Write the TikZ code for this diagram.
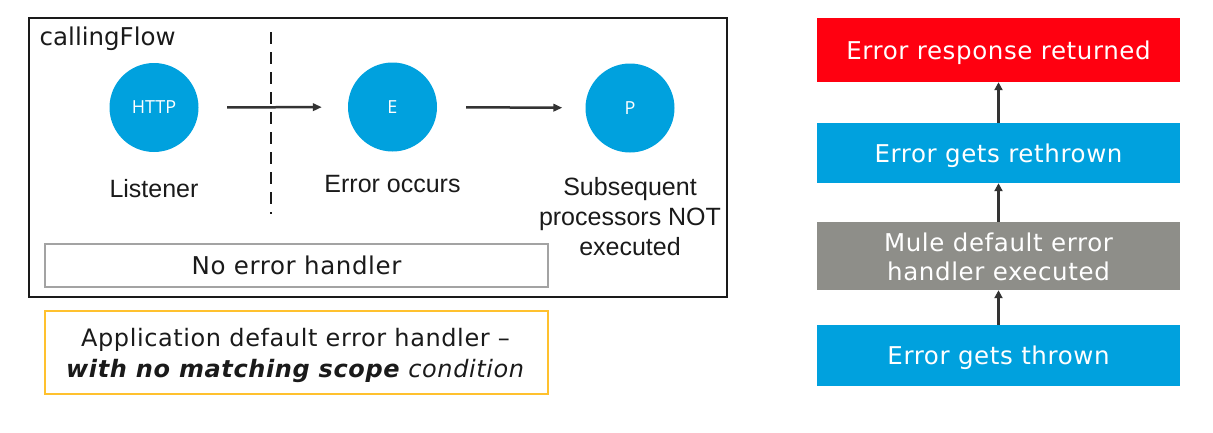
\documentclass[tikz,border=0pt]{standalone}
\usepackage{fontspec}
\setmainfont{DejaVu Sans}[LetterSpace=2.5]
\newfontfamily\verdf{DejaVu Sans}
\newfontfamily\arialf{Liberation Sans}
\newfontfamily\segoef{Open Sans}
\usetikzlibrary{arrows.meta}
\definecolor{muleblue}{HTML}{00A1DE}
\definecolor{mulered}{HTML}{FF0010}
\definecolor{mulegrey}{HTML}{8E8E89}
\definecolor{hgrey}{HTML}{A3A3A3}
\definecolor{myellow}{HTML}{FFC12E}
\definecolor{dark}{HTML}{333333}
\definecolor{txt}{HTML}{1A1A1A}
\tikzset{
  proc/.style={circle, fill=muleblue, draw=none, minimum size=89pt, inner sep=0pt, text=white, font=\segoef\fontsize{18}{20}\selectfont},
  lbl/.style={inner sep=0pt, align=center, text=txt, font=\arialf\fontsize{25}{30}\selectfont},
  flowarrow/.style={draw=dark, line width=2.5pt, -{Triangle[length=9pt,width=7.5pt]}},
  uparrow/.style={draw=dark, line width=2.6pt, -{Triangle[length=8pt,width=8pt]}},
  stepbox/.style={minimum width=363pt, inner sep=0pt, text=white, align=center, text height=18pt, text depth=0pt, font=\fontsize{24.5}{29}\selectfont},
  steptext/.style={inner sep=0pt, text=white, align=center, font=\fontsize{24.5}{29}\selectfont},
}
\begin{document}
\begin{tikzpicture}[x=1pt, y=-1pt]
\useasboundingbox (0,0) rectangle (1213,432);
% outer frame
\node[draw=txt, line width=2pt, minimum width=698pt, minimum height=279pt, inner sep=0pt, anchor=north west] (frame) at (28,17) {};
\node[anchor=base west, inner sep=0pt, text=txt, font=\verdf\fontsize{24.5}{29}\selectfont] (title) at (39.5,45) {callingFlow};
% dashed separator
\coordinate (dtop) at (271,32);
\coordinate (dbot) at (271,214);
\draw[draw=txt, line width=2.6pt, dash pattern=on 12pt off 8pt] (dtop) -- (dbot);
% processors
\node[proc] (http) at (154,107.5) {HTTP};
\node[proc] (err) at (392.5,107) {E};
\node[proc] (p) at (630,108) {P};
\draw[flowarrow, shorten <=28.5pt, shorten >=26pt] (http) -- (err);
\draw[flowarrow, shorten <=29pt, shorten >=23pt] (err) -- (p);
% labels
\node[lbl, anchor=base] (l1) at (154,197) {Listener};
\node[lbl, anchor=base] (l2) at (392.5,192) {Error occurs};
\node[lbl, anchor=north] (l3) at (630,177) {Subsequent\\processors NOT\\executed};
% no error handler
\node[draw=hgrey, line width=2pt, minimum width=503pt, minimum height=43pt, inner sep=0pt, anchor=north west, text=txt, font=\fontsize{24.5}{29}\selectfont] (noeh) at (44,243) {No error handler};
% application default box
\node[draw=myellow, line width=2pt, minimum width=503pt, minimum height=83pt, inner sep=0pt, anchor=north west] (appbox) at (44,310) {};
\node[anchor=north, inner sep=0pt, align=center, text=txt, font=\fontsize{24}{31}\selectfont] (apptext) at (295.5,328) {Application default error handler --\\\textbf{\textit{with no matching scope}} \textit{condition}};
% right column
\node[stepbox, fill=mulered, minimum height=64pt] (resp) at (998.5,50) {Error response returned};
\node[stepbox, fill=muleblue, minimum height=60pt] (rethrow) at (998.5,153) {Error gets rethrown};
\node[fill=mulegrey, minimum width=363pt, minimum height=68pt, inner sep=0pt] (mule) at (998.5,256) {};
\node[steptext, anchor=north] (muletext) at (998.5,232.5) {Mule default error\\handler executed};
\node[stepbox, fill=muleblue, minimum height=61pt] (thrown) at (998.5,355.5) {Error gets thrown};
\draw[uparrow] (thrown.north) -- (mule.south);
\draw[uparrow] (mule.north) -- (rethrow.south);
\draw[uparrow] (rethrow.north) -- (resp.south);
\end{tikzpicture}
\end{document}
